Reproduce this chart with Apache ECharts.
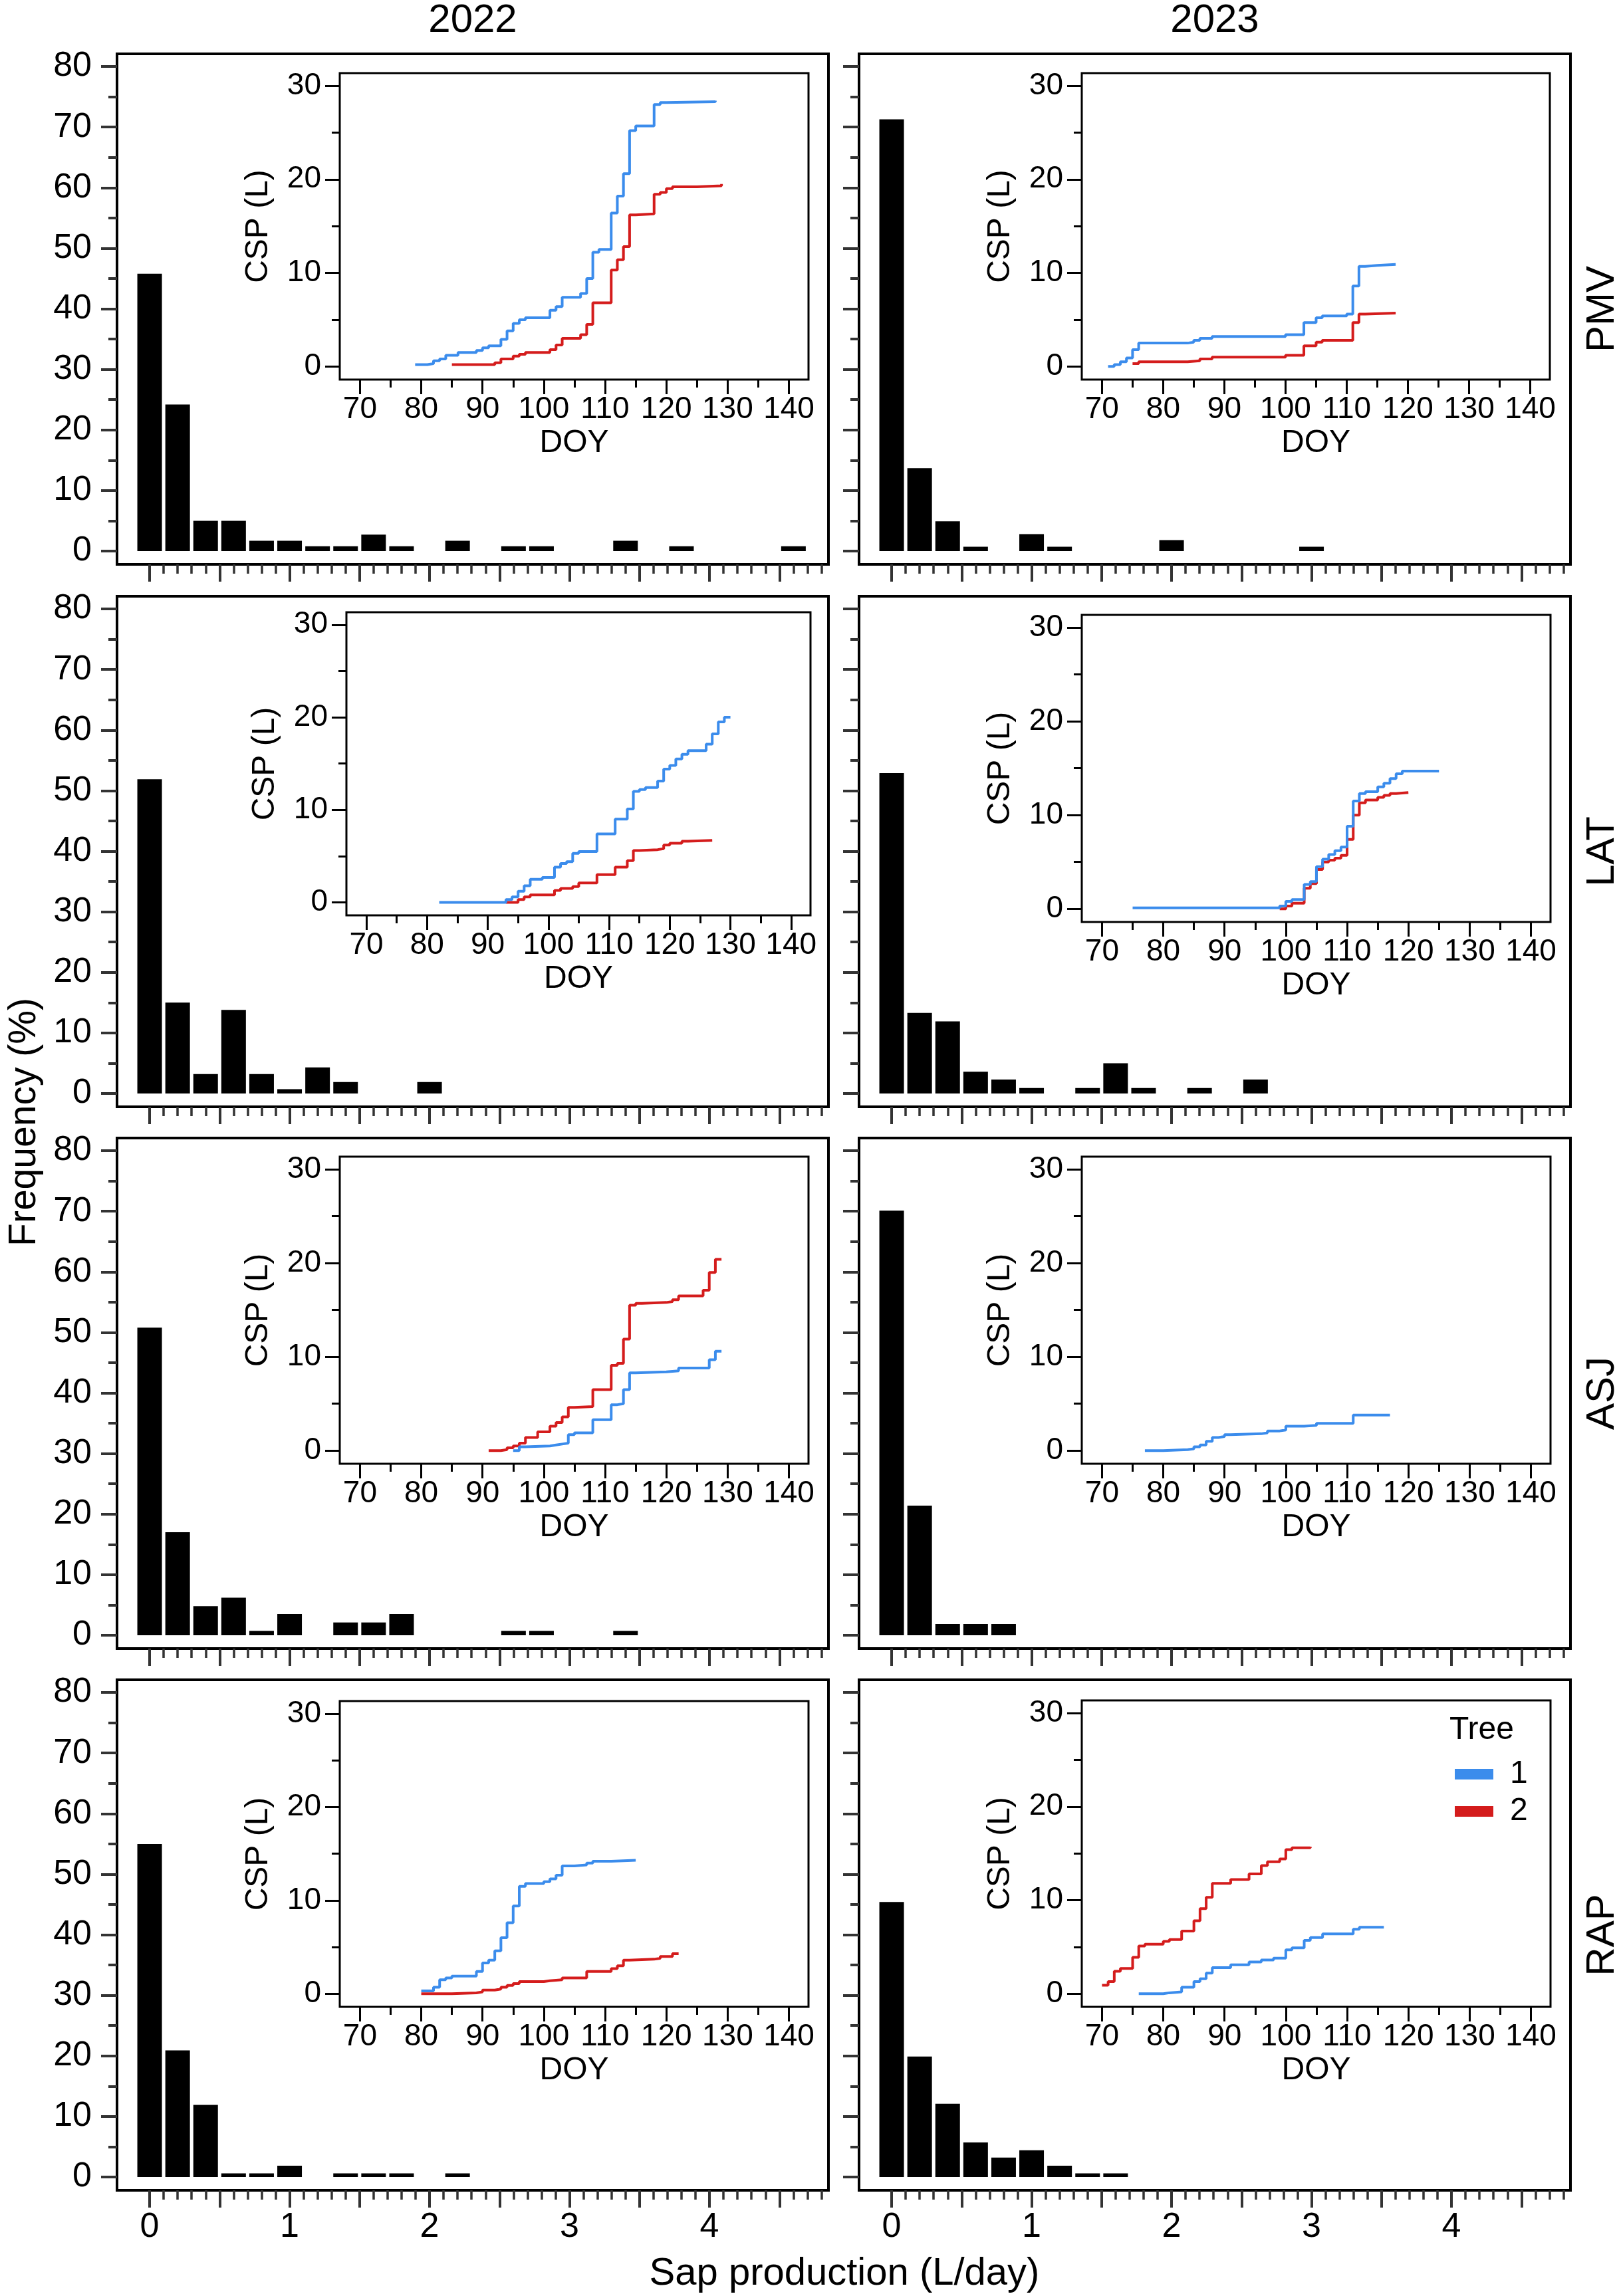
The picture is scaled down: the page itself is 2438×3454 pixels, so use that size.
<!DOCTYPE html>
<html>
<head>
<meta charset="utf-8">
<script src="https://cdn.jsdelivr.net/npm/echarts@6/dist/echarts.min.js"></script>
<style>
html,body{margin:0;padding:0;background:#fff}
#main{width:2438px;height:3454px}
</style>
</head>
<body>
<div id="main"></div>
<script>
var FONT = '"Liberation Sans", Arial, sans-serif';
var BLUE = '#3b8cec';
var RED = '#d41c1c';

// histogram bins (L/day) and tick values
var binStart = [0, 0.2, 0.4, 0.6, 0.8, 1.0, 1.2, 1.4, 1.6, 1.8, 2.0, 2.2, 2.4, 2.6, 2.8, 3.0, 3.2, 3.4, 3.6, 3.8, 4.0, 4.2, 4.4, 4.6];
var histMajorX = [0, 0.5, 1, 1.5, 2, 2.5, 3, 3.5, 4, 4.5];
var histMinorX = [0.1, 0.2, 0.3, 0.4, 0.6, 0.7, 0.8, 0.9, 1.1, 1.2, 1.3, 1.4, 1.6, 1.7, 1.8, 1.9, 2.1, 2.2, 2.3, 2.4,
                  2.6, 2.7, 2.8, 2.9, 3.1, 3.2, 3.3, 3.4, 3.6, 3.7, 3.8, 3.9, 4.1, 4.2, 4.3, 4.4, 4.6, 4.7, 4.8];
var histLabelX = [0, 1, 2, 3, 4];
var freqMajor = [0, 10, 20, 30, 40, 50, 60, 70, 80];
var freqMinor = [5, 15, 25, 35, 45, 55, 65, 75];
var doyMajor = [70, 80, 90, 100, 110, 120, 130, 140];
var doyMinor = [75, 85, 95, 105, 115, 125, 135];
var cspMajor = [0, 10, 20, 30];
var cspMinor = [5, 15, 25];

// frequency (%) per bin
var pmv22Freq = [45.8, 24.2, 5.0, 5.0, 1.7, 1.7, 0.8, 0.8, 2.7, 0.8, 0, 1.7, 0, 0.8, 0.8, 0, 0, 1.7, 0, 0.8, 0, 0, 0, 0.8];
var pmv23Freq = [71.3, 13.7, 4.9, 0.7, 0, 2.8, 0.7, 0, 0, 0, 1.8, 0, 0, 0, 0, 0.7];
var lat22Freq = [51.9, 15.0, 3.2, 13.8, 3.2, 0.7, 4.3, 1.9, 0, 0, 1.9];
var lat23Freq = [52.9, 13.3, 11.9, 3.6, 2.3, 0.9, 0, 0.9, 5.0, 0.9, 0, 0.9, 0, 2.3];
var asj22Freq = [50.8, 17.0, 4.8, 6.2, 0.7, 3.5, 0, 2.1, 2.1, 3.5, 0, 0, 0, 0.7, 0.7, 0, 0, 0.7];
var asj23Freq = [70.1, 21.4, 1.85, 1.85, 1.85];
var rap22Freq = [55.0, 20.9, 11.9, 0.6, 0.6, 1.85, 0, 0.6, 0.6, 0.6, 0, 0.6];
var rap23Freq = [45.4, 19.9, 12.1, 5.7, 3.2, 4.4, 1.85, 0.6, 0.6];

// cumulative sap production (L) by day of year, tree 1 and tree 2
var pmv22T1Doy = [79, 81, 82, 83, 84, 86, 89, 90, 91, 93, 94, 95, 96, 97, 101, 102, 103, 106, 107, 108, 109, 111, 112, 113, 114, 115, 118, 119, 120, 128];
var pmv22T1Csp = [0.2, 0.3, 0.6, 0.8, 1.2, 1.5, 1.7, 2.0, 2.2, 2.9, 3.8, 4.6, 5.0, 5.2, 6.0, 6.4, 7.4, 7.8, 9.4, 12.2, 12.5, 16.4, 18.2, 20.6, 25.2, 25.7, 28.0, 28.2, 28.3, 28.4];
var pmv22T2Doy = [85, 92, 93, 95, 96, 97, 101, 102, 103, 106, 107, 108, 111, 112, 113, 114, 115, 118, 119, 120, 121, 125, 129];
var pmv22T2Csp = [0.2, 0.4, 0.8, 1.1, 1.3, 1.5, 1.8, 2.3, 3.0, 3.4, 4.5, 6.8, 10.3, 11.4, 12.8, 16.2, 16.3, 18.4, 18.6, 19.0, 19.2, 19.3, 19.5];

var pmv23T1Doy = [71, 72, 73, 74, 75, 76, 84, 85, 86, 88, 100, 103, 105, 106, 110, 111, 112, 113, 115, 118];
var pmv23T1Csp = [0, 0.2, 0.5, 0.9, 1.8, 2.5, 2.6, 2.8, 3.0, 3.2, 3.4, 4.7, 5.2, 5.4, 5.6, 8.6, 10.7, 10.8, 10.9, 10.9];
var pmv23T2Doy = [75, 76, 84, 86, 88, 100, 103, 105, 106, 111, 112, 113, 118];
var pmv23T2Csp = [0.3, 0.5, 0.6, 0.8, 1.0, 1.2, 2.2, 2.6, 2.8, 4.7, 5.6, 5.7, 5.7];

var lat22T1Doy = [82, 93, 94, 95, 96, 97, 99, 101, 102, 103, 104, 105, 108, 111, 113, 114, 115, 116, 118, 119, 120, 121, 122, 123, 126, 127, 128, 129, 130];
var lat22T1Csp = [0, 0.3, 0.6, 1.2, 1.8, 2.5, 2.7, 3.8, 4.2, 4.4, 5.3, 5.5, 7.4, 9.0, 10.1, 12.0, 12.2, 12.4, 13.1, 14.4, 14.8, 15.5, 16.0, 16.4, 17.1, 18.2, 19.5, 20.0, 20.0];
var lat22T2Doy = [93, 95, 96, 97, 101, 102, 104, 105, 108, 111, 113, 114, 115, 118, 119, 120, 122, 123, 127];
var lat22T2Csp = [0, 0.3, 0.6, 0.8, 1.3, 1.5, 1.7, 2.1, 3.0, 3.8, 4.5, 5.6, 5.7, 5.8, 6.2, 6.4, 6.6, 6.7, 6.7];

var lat23T1Doy = [75, 99, 100, 101, 103, 104, 105, 106, 107, 108, 109, 110, 111, 112, 113, 115, 116, 117, 118, 119, 125];
var lat23T1Csp = [0.1, 0.3, 0.8, 1.0, 2.6, 2.9, 4.5, 5.3, 5.8, 6.2, 6.6, 8.8, 11.5, 12.3, 12.5, 13.0, 13.4, 13.9, 14.4, 14.7, 14.7];
var lat23T2Doy = [99, 100, 101, 103, 104, 105, 106, 107, 108, 109, 110, 111, 112, 113, 115, 116, 117, 118, 120];
var lat23T2Csp = [0, 0.3, 0.6, 2.2, 2.7, 4.2, 5.0, 5.2, 5.4, 5.7, 7.4, 10.0, 11.3, 11.6, 11.9, 12.1, 12.3, 12.4, 12.4];

var asj22T1Doy = [95, 96, 97, 101, 102, 103, 104, 105, 108, 111, 112, 113, 114, 115, 120, 122, 127, 128, 129];
var asj22T1Csp = [0, 0.4, 0.5, 0.6, 0.7, 0.8, 1.7, 1.9, 3.3, 4.9, 5.0, 6.5, 8.3, 8.4, 8.5, 8.8, 9.7, 10.6, 10.6];
var asj22T2Doy = [91, 93, 94, 95, 96, 97, 99, 101, 102, 103, 104, 105, 108, 111, 112, 113, 114, 115, 116, 120, 121, 122, 126, 127, 128, 129];
var asj22T2Csp = [0, 0.1, 0.3, 0.5, 0.8, 1.4, 2.0, 2.6, 3.0, 3.6, 4.6, 4.7, 6.5, 9.1, 9.3, 11.9, 15.5, 15.7, 15.8, 15.9, 16.1, 16.5, 17.1, 19.0, 20.4, 20.4];

var asj23T1Doy = [77, 80, 84, 85, 86, 87, 88, 89, 90, 91, 96, 97, 99, 100, 103, 105, 111, 117];
var asj23T1Csp = [0, 0.1, 0.2, 0.4, 0.6, 1.0, 1.4, 1.5, 1.7, 1.8, 1.9, 2.1, 2.2, 2.6, 2.7, 2.9, 3.8, 3.8];

var rap22T1Doy = [80, 82, 83, 84, 85, 89, 90, 91, 92, 93, 94, 95, 96, 97, 100, 101, 102, 103, 105, 107, 108, 111, 115];
var rap22T1Csp = [0.3, 0.7, 1.5, 1.7, 1.9, 2.4, 3.3, 3.6, 4.6, 6.0, 7.6, 9.4, 11.5, 11.8, 12.0, 12.3, 12.7, 13.7, 13.8, 14.0, 14.2, 14.3, 14.3];
var rap22T2Doy = [80, 85, 89, 90, 92, 93, 94, 95, 96, 100, 101, 103, 107, 111, 112, 113, 114, 118, 119, 121, 122];
var rap22T2Csp = [0, 0.1, 0.2, 0.4, 0.5, 0.7, 0.9, 1.1, 1.3, 1.4, 1.5, 1.7, 2.4, 2.7, 3.0, 3.6, 3.7, 3.8, 4.0, 4.3, 4.3];

var rap23T1Doy = [76, 80, 81, 83, 85, 86, 87, 88, 91, 94, 96, 98, 100, 101, 103, 104, 106, 111, 112, 116];
var rap23T1Csp = [0, 0.1, 0.2, 0.7, 1.3, 1.6, 2.2, 2.8, 3.1, 3.4, 3.6, 3.8, 4.7, 4.9, 5.7, 6.0, 6.4, 6.9, 7.1, 7.1];
var rap23T2Doy = [70, 71, 72, 73, 75, 76, 77, 80, 81, 83, 85, 86, 87, 88, 91, 94, 96, 97, 99, 100, 101, 104];
var rap23T2Csp = [0.9, 1.3, 2.4, 2.7, 3.9, 5.1, 5.3, 5.6, 5.8, 6.7, 7.8, 9.1, 10.3, 11.8, 12.2, 12.8, 13.7, 14.1, 14.4, 15.4, 15.6, 15.7];

var sites = ['PMV', 'LAT', 'ASJ', 'RAP'];
var years = ['2022', '2023'];

// panels in row order: [site row, year col, freq, tree1 doy, tree1 csp, tree2 doy, tree2 csp]
var panels = [
  [0, 0, pmv22Freq, pmv22T1Doy, pmv22T1Csp, pmv22T2Doy, pmv22T2Csp],
  [0, 1, pmv23Freq, pmv23T1Doy, pmv23T1Csp, pmv23T2Doy, pmv23T2Csp],
  [1, 0, lat22Freq, lat22T1Doy, lat22T1Csp, lat22T2Doy, lat22T2Csp],
  [1, 1, lat23Freq, lat23T1Doy, lat23T1Csp, lat23T2Doy, lat23T2Csp],
  [2, 0, asj22Freq, asj22T1Doy, asj22T1Csp, asj22T2Doy, asj22T2Csp],
  [2, 1, asj23Freq, asj23T1Doy, asj23T1Csp, null, null],
  [3, 0, rap22Freq, rap22T1Doy, rap22T1Csp, rap22T2Doy, rap22T2Csp],
  [3, 1, rap23Freq, rap23T1Doy, rap23T1Csp, rap23T2Doy, rap23T2Csp]
];

// layout (px)
var colLeft = [176, 1292];
var rowTop = [81, 897, 1712, 2527];
var panelW = 1070, panelH = 768;
var insetBox = [
  [511, 110, 705, 461], [1627, 110, 704, 461],
  [521, 921, 698, 456], [1627, 925, 705, 462],
  [511, 1740, 705, 462], [1627, 1740, 705, 462],
  [511, 2559, 705, 460], [1627, 2558, 705, 461]
];

var grids = [], xAxes = [], yAxes = [], series = [];

function tickAxis(base, ticks, len, color, width) {
  base.axisLine = {show: false, onZero: false};
  base.splitLine = {show: false};
  base.axisTick = {show: true, inside: false, length: len, customValues: ticks,
                   lineStyle: {color: color, width: width}};
  return base;
}

panels.forEach(function (p, k) {
  var row = p[0], col = p[1];
  var gMain = grids.length;
  grids.push({left: colLeft[col], top: rowTop[row], width: panelW, height: panelH,
              show: true, borderColor: '#000', borderWidth: 4, backgroundColor: 'transparent'});
  var b = insetBox[k];
  var gIn = grids.length;
  grids.push({left: b[0], top: b[1], width: b[2], height: b[3],
              show: true, borderColor: '#000', borderWidth: 3, backgroundColor: '#fff'});

  // histogram axes
  var xm = tickAxis({type: 'value', gridIndex: gMain, min: -0.233, max: 4.85, position: 'bottom'},
                    histMajorX, 26, '#333', 4);
  xm.axisLabel = {show: row === 3, customValues: histLabelX, fontSize: 52, fontFamily: FONT,
                  color: '#000', margin: 30};
  var xn = tickAxis({type: 'value', gridIndex: gMain, min: -0.233, max: 4.85, position: 'bottom'},
                    histMinorX, 14, '#333', 3.5);
  xn.axisLabel = {show: false};
  var ym = tickAxis({type: 'value', gridIndex: gMain, min: -2.2, max: 82.1, position: 'left'},
                    freqMajor, 24, '#333', 4);
  ym.axisLabel = {show: col === 0, customValues: freqMajor, fontSize: 52, fontFamily: FONT,
                  color: '#000', margin: 38};
  var yn = tickAxis({type: 'value', gridIndex: gMain, min: -2.2, max: 82.1, position: 'left'},
                    freqMinor, 13, '#333', 4);
  yn.axisLabel = {show: false};

  // inset axes
  var xi = tickAxis({type: 'value', gridIndex: gIn, min: 66.7, max: 143.2, position: 'bottom'},
                    doyMajor, 22, '#000', 3);
  xi.axisLabel = {show: true, customValues: doyMajor, fontSize: 46, fontFamily: FONT,
                  color: '#000', margin: 22};
  xi.name = 'DOY'; xi.nameLocation = 'middle'; xi.nameGap = 72;
  xi.nameTextStyle = {fontSize: 48, fontFamily: FONT, color: '#000'};
  var xj = tickAxis({type: 'value', gridIndex: gIn, min: 66.7, max: 143.2, position: 'bottom'},
                    doyMinor, 12, '#000', 3);
  xj.axisLabel = {show: false};
  var yi = tickAxis({type: 'value', gridIndex: gIn, min: -1.4, max: 31.35, position: 'left'},
                    cspMajor, 22, '#000', 3);
  yi.axisLabel = {show: true, customValues: cspMajor, fontSize: 46, fontFamily: FONT,
                  color: '#000', margin: 28};
  yi.name = 'CSP (L)'; yi.nameLocation = 'middle'; yi.nameGap = 98; yi.nameRotate = 90;
  yi.nameTextStyle = {fontSize: 48, fontFamily: FONT, color: '#000'};
  var yj = tickAxis({type: 'value', gridIndex: gIn, min: -1.4, max: 31.35, position: 'left'},
                    cspMinor, 12, '#000', 3);
  yj.axisLabel = {show: false};

  var ax = xAxes.length;
  xAxes.push(xm, xn, xi, xj);
  yAxes.push(ym, yn, yi, yj);

  var bars = [];
  p[2].forEach(function (v, i) { if (v > 0) bars.push([binStart[i], v]); });
  series.push({type: 'bar', xAxisIndex: ax, yAxisIndex: ax, data: bars, barWidth: 37,
               itemStyle: {color: '#000'}, silent: true});

  function stepLine(name, doy, csp, color) {
    series.push({type: 'line', name: name, xAxisIndex: ax + 2, yAxisIndex: ax + 2, step: 'end',
                 showSymbol: false, symbol: 'none', z: 5,
                 data: doy.map(function (d, i) { return [d, csp[i]]; }),
                 lineStyle: {color: color, width: 4}, itemStyle: {color: color}});
  }
  if (p[5]) stepLine('2', p[5], p[6], RED);
  stepLine('1', p[3], p[4], BLUE);
});

var graphics = [];
function label(text, x, y, size, rot) {
  graphics.push({type: 'text', x: x, y: y, rotation: rot || 0,
    style: {text: text, fontSize: size, fontFamily: FONT, fill: '#000',
            align: 'center', verticalAlign: 'middle', textAlign: 'center', textVerticalAlign: 'middle'}});
}
years.forEach(function (y, c) { label(y, colLeft[c] + panelW / 2, 31, 60); });
sites.forEach(function (s, r) { label(s, 2410, rowTop[r] + panelH / 2, 60, Math.PI / 2); });
label('Frequency (%)', 37, 1688, 57, Math.PI / 2);
label('Sap production (L/day)', 1270, 3421, 58);
graphics.push({type: 'text', x: 2180, y: 2603,
  style: {text: 'Tree', fontSize: 48, fontFamily: FONT, fill: '#000',
          align: 'left', verticalAlign: 'middle', textAlign: 'left', textVerticalAlign: 'middle'}});

var chart = echarts.init(document.getElementById('main'));
chart.setOption({
  animation: false,
  backgroundColor: '#fff',
  grid: grids,
  xAxis: xAxes,
  yAxis: yAxes,
  series: series,
  legend: {data: ['1', '2'], orient: 'vertical', left: 2183, top: 2640, icon: 'rect',
           itemWidth: 58, itemHeight: 16, itemGap: 8, selectedMode: false,
           textStyle: {fontSize: 48, fontFamily: FONT, color: '#000', padding: [0, 0, 0, 20]}},
  graphic: graphics
});
</script>
</body>
</html>
